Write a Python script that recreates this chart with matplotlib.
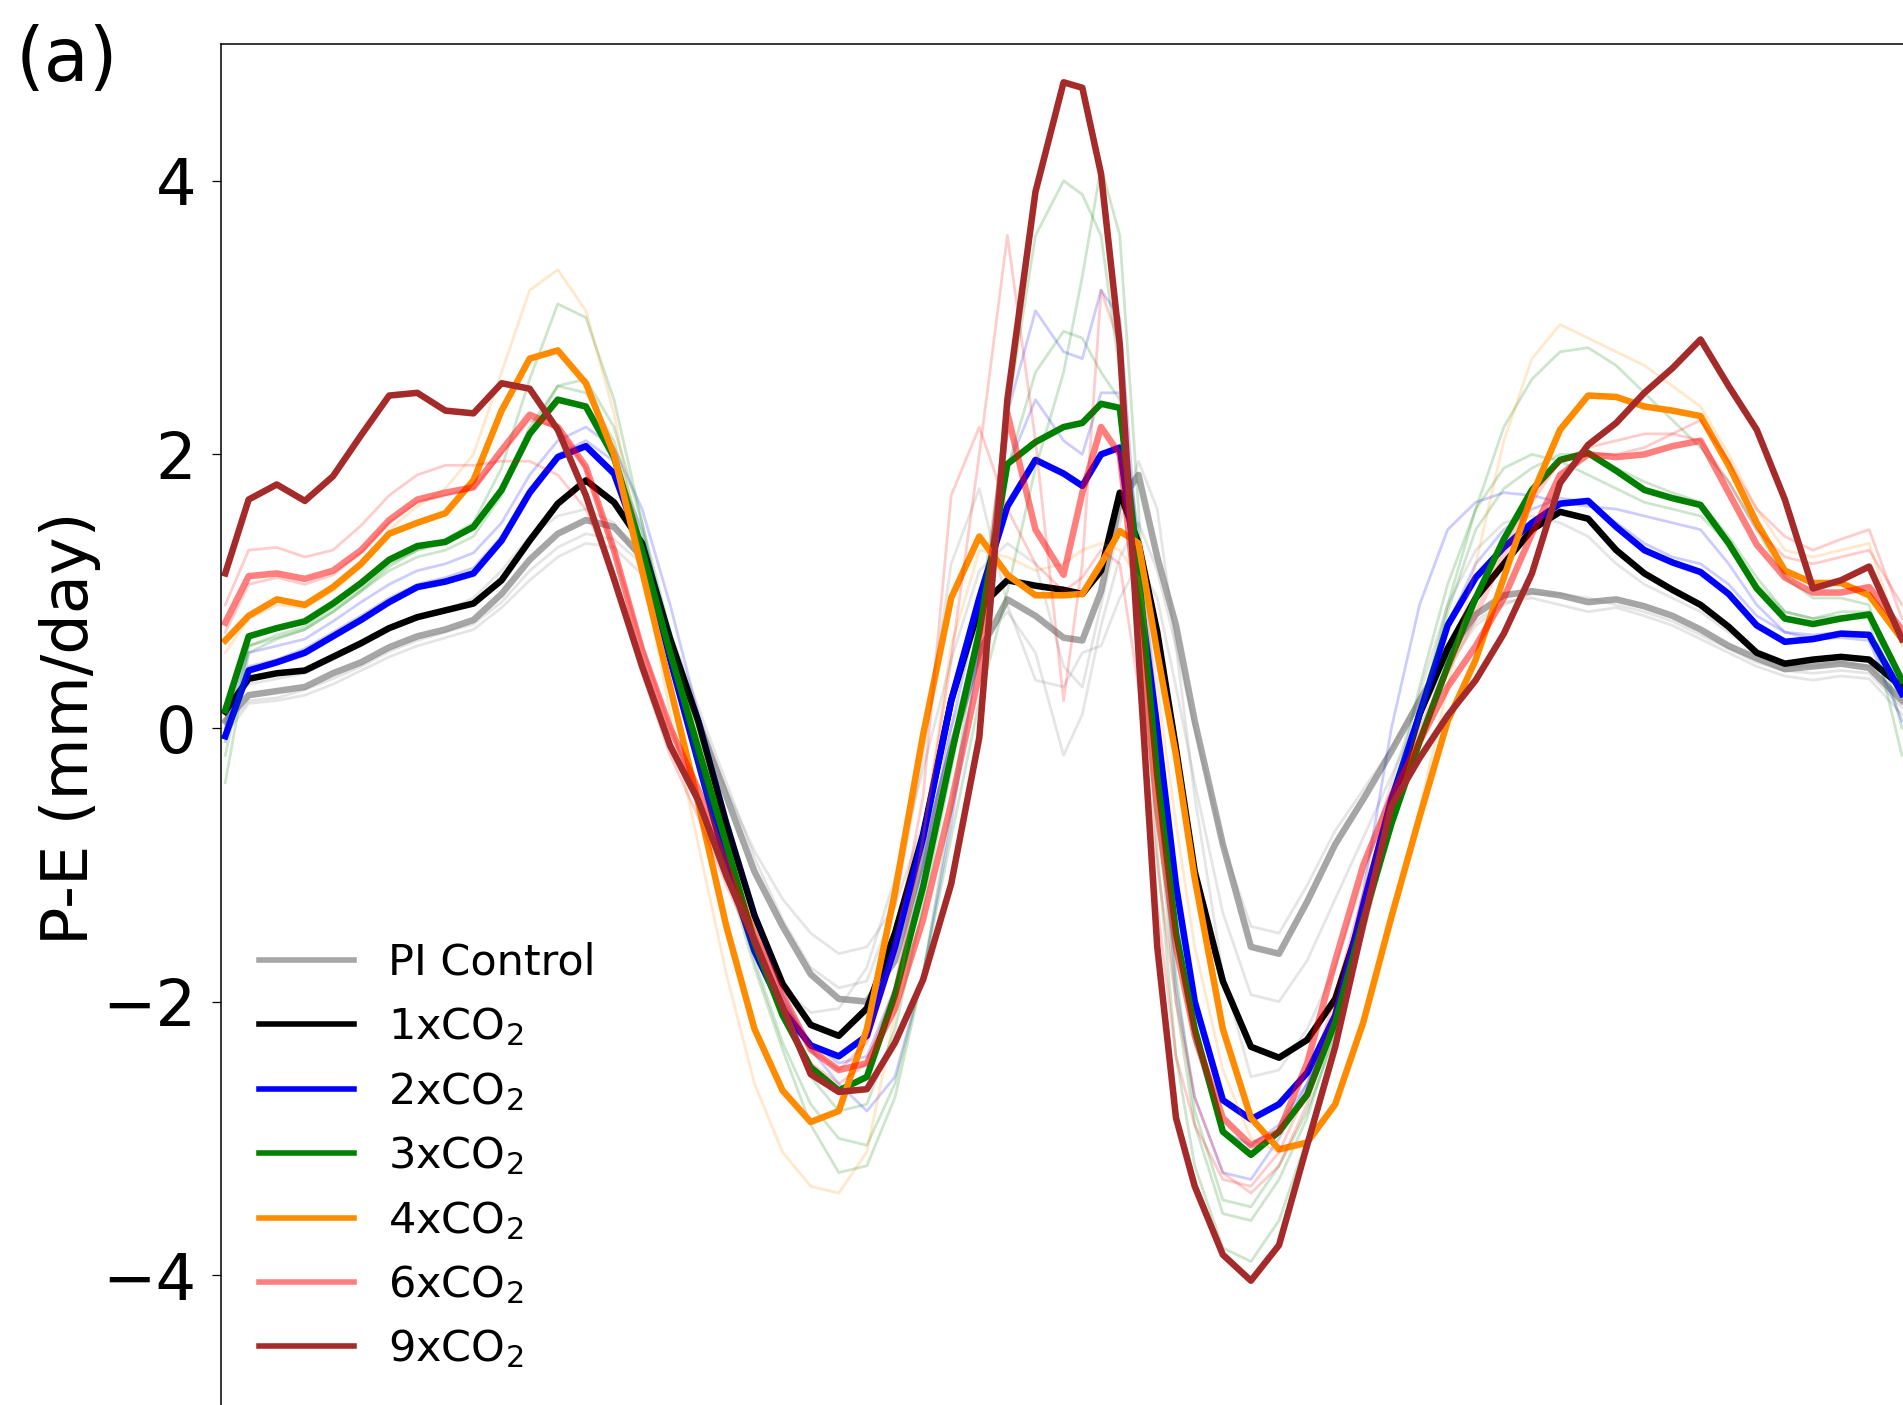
import matplotlib
matplotlib.use("Agg")
import matplotlib.pyplot as plt

# latitude grid (deg) shared by every curve
lat = [-89.5, -87, -84, -81, -78, -75, -72, -69, -66, -63, -60, -57, -54, -51, -48, -45,
       -42, -39, -36, -33, -30, -27, -24, -21, -18, -15, -12, -9, -6, -3, 0, 2, 4, 6, 8,
       10, 12, 14, 17, 20, 23, 26, 29, 32, 35, 38, 41, 44, 47, 50, 53, 56, 59, 62, 65, 68,
       71, 74, 77, 80, 83, 86, 89.5]

# ensemble-mean P-E (mm/day)
pi_control = [0.05, 0.24, 0.27, 0.30, 0.40, 0.48, 0.59, 0.67, 0.72, 0.79, 0.98, 1.23, 1.42, 1.52, 1.47, 1.25,
              0.60, 0.05, -0.50, -1.05, -1.45, -1.80, -1.98, -2.00, -1.70, -0.95, -0.15, 0.55, 0.94, 0.82, 0.66, 0.64, 1.00, 1.65, 1.85,
              1.25, 0.75, 0.05, -0.85, -1.60, -1.65, -1.27, -0.85, -0.52, -0.17, 0.20, 0.55, 0.83, 0.97, 1.00, 0.97, 0.92, 0.94, 0.89, 0.82, 0.72,
              0.60, 0.51, 0.43, 0.45, 0.47, 0.44, 0.20]
co2_1x = [0.12, 0.36, 0.40, 0.42, 0.52, 0.62, 0.73, 0.81, 0.86, 0.91, 1.08, 1.37, 1.64, 1.81, 1.65, 1.35,
          0.65, 0.05, -0.70, -1.37, -1.87, -2.17, -2.25, -2.05, -1.50, -0.78, 0.20, 0.88, 1.08, 1.04, 1.01, 0.98, 1.15, 1.72, 1.35,
          0.70, -0.15, -1.05, -1.85, -2.33, -2.41, -2.28, -1.98, -1.35, -0.60, 0.10, 0.58, 0.95, 1.20, 1.45, 1.58, 1.53, 1.30, 1.13, 1.01, 0.90,
          0.74, 0.55, 0.47, 0.50, 0.52, 0.50, 0.30]
co2_2x = [-0.06, 0.42, 0.48, 0.55, 0.67, 0.79, 0.92, 1.03, 1.07, 1.13, 1.37, 1.72, 1.98, 2.06, 1.86, 1.30,
          0.50, -0.25, -1.00, -1.63, -2.06, -2.32, -2.40, -2.25, -1.60, -0.80, 0.20, 0.95, 1.62, 1.96, 1.86, 1.77, 2.00, 2.05, 1.05,
          0.00, -1.15, -2.00, -2.72, -2.86, -2.75, -2.52, -2.10, -1.29, -0.52, 0.10, 0.75, 1.10, 1.32, 1.50, 1.64, 1.66, 1.47, 1.30, 1.21, 1.14,
          0.98, 0.75, 0.63, 0.65, 0.69, 0.68, 0.25]
co2_3x = [0.13, 0.67, 0.73, 0.78, 0.91, 1.06, 1.23, 1.33, 1.36, 1.47, 1.74, 2.15, 2.40, 2.35, 1.98, 1.30,
          0.55, -0.15, -0.85, -1.57, -2.10, -2.48, -2.65, -2.55, -1.95, -1.16, -0.20, 0.70, 1.93, 2.09, 2.20, 2.23, 2.37, 2.34, 1.15,
          -0.35, -1.50, -2.20, -2.95, -3.12, -2.95, -2.68, -2.15, -1.40, -0.70, -0.10, 0.45, 0.95, 1.38, 1.74, 1.96, 2.01, 1.88, 1.74, 1.68, 1.63,
          1.35, 1.02, 0.80, 0.76, 0.80, 0.83, 0.35]
co2_4x = [0.64, 0.82, 0.94, 0.90, 1.03, 1.20, 1.42, 1.50, 1.57, 1.81, 2.32, 2.70, 2.76, 2.52, 2.00, 1.15,
          0.30, -0.55, -1.45, -2.20, -2.65, -2.88, -2.80, -2.20, -1.20, -0.05, 0.95, 1.40, 1.12, 0.97, 0.97, 0.98, 1.20, 1.44, 1.35,
          0.55, -0.20, -1.10, -2.20, -2.85, -3.08, -3.03, -2.75, -2.15, -1.38, -0.65, 0.05, 0.50, 1.10, 1.70, 2.18, 2.43, 2.42, 2.35, 2.32, 2.28,
          1.92, 1.50, 1.15, 1.06, 1.06, 0.97, 0.65]
co2_6x = [0.77, 1.11, 1.13, 1.09, 1.15, 1.30, 1.52, 1.67, 1.72, 1.76, 2.03, 2.29, 2.20, 1.91, 1.30, 0.57,
          0.00, -0.45, -1.00, -1.50, -1.95, -2.35, -2.50, -2.45, -2.05, -1.40, -0.55, 0.40, 2.30, 1.45, 1.12, 1.72, 2.20, 2.00, 0.80,
          -0.60, -1.60, -2.25, -2.85, -3.05, -2.95, -2.45, -1.70, -1.00, -0.50, -0.10, 0.30, 0.60, 0.95, 1.42, 1.85, 2.00, 1.98, 2.00, 2.06, 2.10,
          1.72, 1.34, 1.10, 0.99, 0.99, 1.03, 0.72]
co2_9x = [1.13, 1.67, 1.78, 1.66, 1.84, 2.14, 2.43, 2.45, 2.32, 2.30, 2.52, 2.48, 2.18, 1.70, 1.09, 0.45,
          -0.13, -0.53, -1.08, -1.55, -2.04, -2.53, -2.66, -2.64, -2.30, -1.84, -1.14, -0.07, 2.40, 3.92, 4.72, 4.68, 4.05, 2.80, 0.55,
          -1.60, -2.85, -3.35, -3.85, -4.04, -3.78, -3.05, -2.33, -1.43, -0.57, -0.22, 0.09, 0.35, 0.69, 1.13, 1.79, 2.07, 2.23, 2.45, 2.63, 2.84,
          2.50, 2.18, 1.67, 1.02, 1.08, 1.18, 0.65]

# individual members (faint lines)
gray_a = [-0.05, 0.18, 0.20, 0.24, 0.32, 0.42, 0.52, 0.60, 0.66, 0.72, 0.88, 1.08, 1.25, 1.35, 1.32, 1.12,
          0.55, 0.05, -0.45, -0.90, -1.25, -1.50, -1.65, -1.60, -1.30, -0.70, 0.00, 0.60, 0.85, 0.55, -0.20, 0.10, 0.75, 1.25, 1.50,
          1.15, 0.60, 0.00, -0.85, -1.45, -1.50, -1.15, -0.75, -0.45, -0.15, 0.20, 0.50, 0.78, 0.92, 0.95, 0.90, 0.85, 0.88, 0.82, 0.75, 0.65,
          0.55, 0.45, 0.38, 0.35, 0.38, 0.36, 0.10]
gray_b = [0.15, 0.32, 0.36, 0.40, 0.50, 0.60, 0.72, 0.80, 0.86, 0.95, 1.15, 1.40, 1.55, 1.60, 1.50, 1.20,
          0.50, -0.15, -0.85, -1.50, -1.90, -2.08, -2.05, -1.75, -1.10, -0.30, 0.50, 1.15, 1.35, 1.20, 0.45, 0.30, 0.90, 1.50, 1.95,
          1.60, 0.60, -0.50, -1.80, -2.55, -2.50, -2.20, -1.75, -1.10, -0.40, 0.25, 0.90, 1.30, 1.50, 1.55, 1.50, 1.40, 1.20, 1.05, 0.95, 0.85,
          0.70, 0.55, 0.45, 0.45, 0.48, 0.45, 0.20]
gray_c = [0.00, 0.20, 0.22, 0.28, 0.36, 0.45, 0.56, 0.64, 0.70, 0.76, 0.92, 1.15, 1.32, 1.42, 1.38, 1.20,
          0.70, 0.15, -0.40, -0.95, -1.40, -1.75, -1.90, -1.85, -1.30, -0.20, 1.20, 1.75, 0.90, 0.35, 0.30, 0.55, 0.60, 0.95, 1.20,
          0.95, 0.30, -0.40, -1.35, -1.95, -2.00, -1.70, -1.25, -0.80, -0.35, 0.10, 0.45, 0.75, 0.90, 0.98, 0.98, 0.95, 0.90, 0.85, 0.78, 0.68,
          0.58, 0.48, 0.42, 0.40, 0.42, 0.40, 0.15]
blue_a = [0.00, 0.55, 0.60, 0.65, 0.78, 0.92, 1.05, 1.15, 1.20, 1.28, 1.50, 1.85, 2.10, 2.20, 2.05, 1.60,
          0.90, 0.10, -0.65, -1.35, -1.95, -2.35, -2.60, -2.80, -2.55, -1.80, -0.70, 0.60, 2.30, 3.05, 2.75, 2.70, 3.20, 3.00, 1.20,
          -0.40, -1.90, -2.70, -3.25, -3.30, -3.00, -2.60, -2.10, -1.20, 0.00, 0.90, 1.45, 1.65, 1.72, 1.70, 1.65, 1.62, 1.60, 1.55, 1.50, 1.45,
          1.20, 0.90, 0.70, 0.65, 0.66, 0.64, 0.05]
blue_b = [-0.10, 0.45, 0.50, 0.58, 0.70, 0.82, 0.95, 1.05, 1.10, 1.17, 1.40, 1.75, 2.00, 2.10, 1.95, 1.45,
          0.65, -0.15, -0.90, -1.55, -2.00, -2.30, -2.45, -2.40, -1.90, -1.00, 0.00, 0.90, 1.90, 2.40, 2.10, 2.00, 2.45, 2.45, 1.40,
          0.10, -1.30, -2.30, -2.95, -3.05, -2.90, -2.60, -2.10, -1.35, -0.55, 0.10, 0.75, 1.20, 1.45, 1.60, 1.68, 1.65, 1.50, 1.35, 1.25, 1.20,
          1.05, 0.82, 0.70, 0.68, 0.70, 0.70, 0.30]
green_a = [-0.40, 0.55, 0.65, 0.72, 0.85, 1.00, 1.18, 1.30, 1.38, 1.50, 1.90, 2.55, 3.10, 3.00, 2.40, 1.50,
           0.55, -0.30, -1.05, -1.75, -2.35, -2.90, -3.25, -3.20, -2.70, -1.80, -0.60, 0.80, 2.30, 3.60, 4.00, 3.90, 3.60, 2.60, 1.00,
           -0.90, -2.40, -3.20, -3.80, -3.90, -3.60, -3.00, -2.30, -1.50, -0.70, 0.10, 0.90, 1.60, 2.20, 2.55, 2.75, 2.78, 2.65, 2.45, 2.25, 2.05,
           1.80, 1.45, 1.10, 0.95, 0.95, 0.90, 0.00]
green_b = [-0.20, 0.60, 0.68, 0.74, 0.88, 1.02, 1.20, 1.30, 1.35, 1.45, 1.75, 2.20, 2.50, 2.45, 2.10, 1.40,
           0.55, -0.25, -1.00, -1.70, -2.30, -2.75, -3.00, -3.05, -2.60, -1.80, -0.80, 0.20, 1.00, 1.90, 2.60, 3.30, 4.10, 3.60, 1.60,
           -0.60, -2.00, -2.90, -3.55, -3.60, -3.30, -2.85, -2.20, -1.40, -0.55, 0.30, 1.05, 1.60, 1.90, 2.00, 1.95, 1.85, 1.75, 1.65, 1.60, 1.55,
           1.35, 1.05, 0.85, 0.80, 0.82, 0.80, -0.20]
green_c = [0.05, 0.60, 0.66, 0.72, 0.85, 1.00, 1.15, 1.25, 1.30, 1.40, 1.70, 2.15, 2.50, 2.55, 2.20, 1.50,
           0.70, -0.05, -0.80, -1.50, -2.10, -2.55, -2.80, -2.75, -2.20, -1.30, -0.30, 0.80, 1.90, 2.60, 2.90, 2.85, 2.60, 2.40, 1.30,
           -0.30, -1.80, -2.80, -3.45, -3.50, -3.20, -2.80, -2.25, -1.50, -0.70, 0.05, 0.85, 1.45, 1.75, 1.90, 2.00, 2.00, 1.90, 1.80, 1.72, 1.65,
           1.40, 1.10, 0.85, 0.80, 0.85, 0.85, 0.30]
orange_a = [0.55, 0.80, 0.90, 0.88, 1.00, 1.18, 1.45, 1.62, 1.75, 2.00, 2.60, 3.20, 3.35, 3.05, 2.30, 1.20,
            0.10, -0.85, -1.80, -2.60, -3.10, -3.35, -3.40, -3.10, -2.10, -0.80, 0.60, 1.30, 1.25, 1.15, 1.20, 1.30, 1.35, 1.30, 1.10,
            0.30, -0.70, -1.60, -2.50, -3.00, -3.10, -3.05, -2.75, -2.15, -1.40, -0.60, 0.30, 1.20, 2.10, 2.70, 2.95, 2.85, 2.75, 2.65, 2.50, 2.35,
            2.00, 1.60, 1.30, 1.25, 1.30, 1.35, 0.60]
red_a = [0.90, 1.30, 1.32, 1.25, 1.30, 1.48, 1.70, 1.85, 1.92, 1.92, 1.95, 1.95, 1.85, 1.60, 1.10, 0.40,
         -0.20, -0.65, -1.15, -1.60, -2.05, -2.45, -2.60, -2.45, -1.90, -0.80, 0.50, 2.00, 3.60, 2.10, 0.20, 1.20, 3.20, 2.80, 0.50,
         -1.30, -2.40, -2.90, -3.30, -3.35, -3.10, -2.65, -1.95, -1.20, -0.55, 0.00, 0.45, 0.85, 1.30, 1.70, 1.95, 2.00, 2.00, 2.05, 2.15, 2.25,
         1.95, 1.60, 1.40, 1.30, 1.38, 1.45, 0.80]
red_b = [0.70, 1.05, 1.10, 1.05, 1.12, 1.28, 1.50, 1.65, 1.70, 1.75, 2.00, 2.25, 2.20, 1.90, 1.30, 0.60,
         0.00, -0.50, -1.05, -1.55, -2.00, -2.35, -2.50, -2.30, -1.60, -0.50, 1.70, 2.20, 1.60, 1.20, 1.00, 1.10, 1.30, 1.20, 0.30,
         -1.00, -2.00, -2.70, -3.25, -3.40, -3.20, -2.75, -2.05, -1.30, -0.60, -0.05, 0.40, 0.80, 1.25, 1.65, 1.95, 2.05, 2.10, 2.15, 2.15, 2.10,
         1.80, 1.45, 1.25, 1.20, 1.25, 1.30, 0.90]

labels = ["PI Control", "1xCO$_2$", "2xCO$_2$", "3xCO$_2$", "4xCO$_2$", "6xCO$_2$", "9xCO$_2$"]
means = [pi_control, co2_1x, co2_2x, co2_3x, co2_4x, co2_6x, co2_9x]
colors = ["gray", "black", "blue", "green", "darkorange", "red", "brown"]
alphas = [0.7, 1.0, 1.0, 1.0, 1.0, 0.5, 1.0]
members = [[gray_a, gray_c], [gray_b], [blue_a, blue_b], [green_a, green_b, green_c],
           [orange_a], [red_a, red_b], []]
member_colors = ["gray", "gray", "blue", "green", "darkorange", "red", "brown"]

fig = plt.figure(figsize=(19.03, 14.05), dpi=100)
ax = fig.add_axes([0.1159, -0.005, 0.886, 0.9737])

for mean, members_i, c, mc, a, lab in zip(means, members, colors, member_colors, alphas, labels):
    for m in members_i:
        ax.plot(lat, m, color=mc, alpha=0.2, linewidth=2.0, solid_joinstyle="round")
    ax.plot(lat, mean, color=c, alpha=a, linewidth=4.7, label=lab, solid_joinstyle="round")

ax.set_xlim(-90, 90)
ax.set_ylim(-5, 5)
ax.set_yticks([-4, -2, 0, 2, 4])
ax.tick_params(axis="x", labelbottom=False)
ax.tick_params(axis="y", labelsize=46, length=6.5, width=0.9, pad=11)
ax.set_ylabel("P-E (mm/day)", fontsize=46, labelpad=1)
for s in ax.spines.values():
    s.set_linewidth(1.1)

leg = ax.legend(loc="lower left", fontsize=31, frameon=False, handlelength=2.2,
                bbox_to_anchor=(0.0, 0.002))
for h in leg.get_lines():
    h.set_linewidth(4.0)
fig.text(0.008, 0.983, "(a)", fontsize=53, va="top", ha="left")

fig.savefig("out.png", dpi=100)
